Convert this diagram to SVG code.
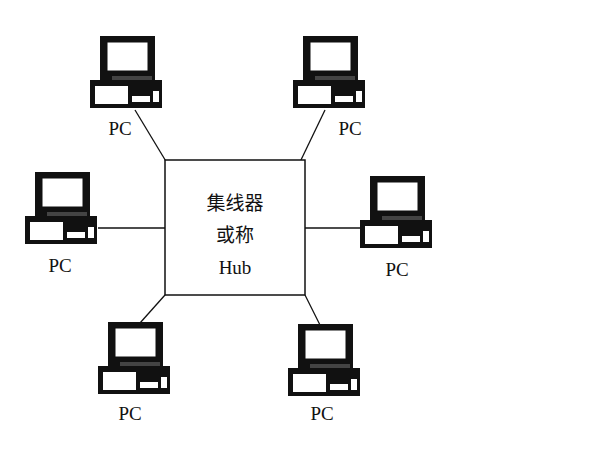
<svg xmlns="http://www.w3.org/2000/svg" width="600" height="450" viewBox="0 0 600 450">
<style>
.t{font-family:"Liberation Serif","Noto Sans CJK SC",serif;font-size:19px;fill:#111;text-anchor:middle}
.c{stroke:#111;stroke-width:1.3;fill:none}
</style>
<defs>
<g id="pc">
<rect x="10" y="0" width="55" height="44" fill="#111"/>
<rect x="17" y="6" width="41" height="29" fill="#fff" stroke="#111"/>
<rect x="22" y="40" width="40" height="4" fill="#444"/>
<rect x="0" y="44" width="72" height="28" fill="#111"/>
<rect x="5" y="50" width="33" height="18" fill="#fff"/>
<rect x="42" y="60" width="18" height="6" fill="#fff"/>
<rect x="63" y="55" width="6" height="11" fill="#fff"/>
</g>
</defs>
<rect width="600" height="450" fill="#fff"/>
<g id="connectors" class="c">
<line x1="135" y1="110" x2="167" y2="163"/>
<line x1="325" y1="110" x2="300" y2="162"/>
<line x1="98" y1="228" x2="165" y2="228"/>
<line x1="305" y1="228" x2="360" y2="228"/>
<line x1="140" y1="323" x2="165" y2="295"/>
<line x1="305" y1="295" x2="320" y2="325"/>
</g>
<g id="hub">
<rect x="165" y="160" width="140" height="135" fill="#fff" stroke="#111" stroke-width="1.5"/>
<text class="t" x="235" y="210">集线器</text>
<text class="t" x="235" y="242">或称</text>
<text class="t" x="235" y="274">Hub</text>
</g>
<g id="pc1"><use href="#pc" x="90" y="36"/><text class="t" x="120" y="135">PC</text></g>
<g id="pc2"><use href="#pc" x="293" y="36"/><text class="t" x="350" y="135">PC</text></g>
<g id="pc3"><use href="#pc" x="25" y="172"/><text class="t" x="60" y="272">PC</text></g>
<g id="pc4"><use href="#pc" x="360" y="176"/><text class="t" x="397" y="276">PC</text></g>
<g id="pc5"><use href="#pc" x="98" y="322"/><text class="t" x="130" y="420">PC</text></g>
<g id="pc6"><use href="#pc" x="288" y="324"/><text class="t" x="322" y="420">PC</text></g>
</svg>
